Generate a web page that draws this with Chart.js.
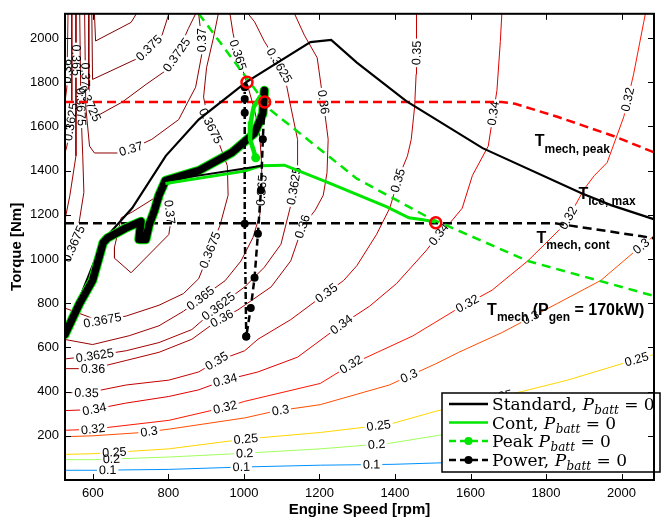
<!DOCTYPE html>
<html>
<head>
<meta charset="utf-8">
<script src="https://cdn.jsdelivr.net/npm/chart.js@4.4.0/dist/chart.umd.min.js"></script>
<style>
html,body{margin:0;padding:0;background:#fff;}
#chart{display:block;}
</style>
</head>
<body>
<canvas id="chart" width="662" height="521"></canvas>
<script>
const FONT = "'Liberation Sans', Arial, Helvetica, sans-serif";
const SERIF = "'DejaVu Serif', 'Liberation Serif', serif";
const LABEL_FONT = "12.5px " + FONT;
const GREEN = "#00e600";

const xTicks = [600, 800, 1000, 1200, 1400, 1600, 1800, 2000];
const yTicks = [200, 400, 600, 800, 1000, 1200, 1400, 1600, 1800, 2000];

// efficiency contours, points are [rpm, Nm]
const c010 = [[526,44],[600,44],[801,48],[1002,59],[1202,67],[1395,71],[1508,77],[1800,92],[2086,108]];
const c020 = [[526,92],[600,92],[801,104],[1002,121],[1202,141],[1385,166],[1508,200],[1800,290],[2086,380]];
const c025 = [[526,116],[600,119],[801,141],[1002,185],[1202,215],[1385,252],[1508,311],[1735,400],[1857,452],[2014,533],[2086,568]];
const c030 = [[526,196],[600,200],[731,215],[801,230],[1002,281],[1080,311],[1202,341],[1385,430],[1508,526],[1569,578],[1683,667],[1831,800],[1945,903],[2032,1030],[2086,1105]];
const c032 = [[526,225],[600,230],[801,270],[950,329],[1002,356],[1202,437],[1285,524],[1447,652],[1561,770],[1657,859],[1752,992],[1805,1081],[1849,1156],[1902,1319],[1928,1378],[1962,1437],[2006,1644],[2032,1837],[2059,2074],[2063,2110]];
const c034 = [[526,314],[600,319],[687,348],[801,378],[880,408],[950,452],[1037,489],[1142,556],[1259,704],[1333,787],[1404,889],[1482,1037],[1516,1111],[1542,1156],[1578,1230],[1605,1378],[1647,1511],[1670,1763],[1679,1985],[1683,2110]];
const c035 = [[526,396],[583,394],[688,430],[801,452],[880,489],[928,538],[1002,585],[1037,637],[1124,726],[1194,815],[1264,903],[1299,970],[1351,1111],[1386,1230],[1412,1378],[1433,1467],[1443,1541],[1452,1689],[1456,1837],[1458,1960],[1456,2110]];
const c036 = [[526,504],[600,504],[688,541],[775,578],[862,637],[928,719],[984,770],[1072,874],[1124,992],[1155,1147],[1189,1222],[1210,1289],[1220,1391],[1223,1542],[1212,1689],[1194,1911],[1160,2013],[1134,2110]];
const c036b = [[534,2110],[531,1778],[526,1711]];
const c03625 = [[526,548],[605,563],[688,585],[775,622],[862,681],[932,785],[1002,874],[1054,963],[1098,1067],[1124,1244],[1142,1422],[1142,1541],[1124,1689],[1107,1837],[1089,1889],[1054,1985],[1028,2074],[1011,2110]];
const c03625b = [[544,2110],[544,1644],[531,1511],[526,1480]];
const c0365 = [[526,636],[599,613],[696,653],[775,698],[840,764],[885,822],[950,902],[992,991],[1024,1098],[1042,1200],[1047,1311],[1047,1422],[1042,1555],[1029,1667],[1011,1778],[995,1866],[984,1924],[971,2022],[963,2110]];
const c0365b = [[555,2110],[555,1467],[539,1289],[526,1178]];
const c03675 = [[526,778],[618,720],[688,742],[775,791],[840,844],[880,911],[906,1022],[937,1155],[958,1289],[956,1422],[932,1533],[906,1622],[893,1733],[901,1867],[919,2000],[932,2110]];
const c03675b = [[565,2110],[568,1689],[573,1467],[576,1302],[557,1098],[534,1009],[526,987]];
const c037 = [[578,2110],[581,1689],[591,1511],[604,1480],[665,1480],[701,1498],[756,1542],[827,1631],[872,1778],[888,1924],[888,1991],[880,2110]];
const c037b = [[657,1053],[657,1004],[701,938],[801,1111],[806,1169],[801,1244],[775,1289],[704,1213],[675,1187],[657,1053]];
const c03725 = [[589,2110],[589,1711],[607,1644],[678,1711],[741,1791],[793,1853],[822,1924],[853,2044],[872,2110]];
const c0375 = [[597,2110],[599,1813],[722,1911],[783,2013],[801,2110]];
const c0375b = [[604,2110],[607,1987],[701,2071],[715,2110]];

const contourPieces = [
  [0.1, c010], [0.2, c020], [0.25, c025], [0.3, c030], [0.32, c032], [0.34, c034],
  [0.35, c035], [0.36, c036], [0.36, c036b], [0.3625, c03625], [0.3625, c03625b],
  [0.365, c0365], [0.365, c0365b], [0.3675, c03675], [0.3675, c03675b],
  [0.37, c037], [0.37, c037b], [0.3725, c03725], [0.375, c0375], [0.375, c0375b]
];

// inline contour labels: [level, rpm, Nm] (snapped onto the nearest line of that level)
const contourLabels = [
  [0.1,639,40],[0.1,993,58],[0.1,1338,71],
  [0.2,649,93],[0.2,1002,116],[0.2,1351,169],
  [0.25,657,120],[0.25,1005,187],[0.25,1356,258],[0.25,1678,382],[0.25,2040,547],
  [0.3,749,213],[0.3,1097,311],[0.3,1435,480],[0.3,1760,733],[0.3,2048,1067],
  [0.32,600,236],[0.32,950,329],[0.32,1283,524],[0.32,1595,787],[0.32,1857,1187],[0.32,2011,1724],
  [0.34,604,320],[0.34,950,453],[0.34,1259,702],[0.34,1516,1111],[0.34,1666,1658],
  [0.35,583,391],[0.35,927,542],[0.35,1215,853],[0.35,1424,1347],[0.35,1459,1933],
  [0.36,600,502],[0.36,945,720],[0.36,1155,1147],[0.36,1210,1711],[0.36,531,1850],
  [0.3625,605,564],[0.3625,932,787],[0.3625,1123,1333],[0.3625,1097,1880],[0.3625,544,1620],
  [0.365,885,822],[0.365,1045,1311],[0.365,984,1924],[0.365,555,1900],
  [0.3675,625,724],[0.3675,906,1044],[0.3675,909,1600],[0.3675,570,1689],[0.3675,552,1067],
  [0.37,804,1213],[0.37,701,1498],[0.37,888,1991],[0.37,580,1835],
  [0.3725,822,1924],[0.3725,589,1702],
  [0.375,754,1946]
];

// torque limits and operating lines
const tIceMax = [[526,658],[625,1080],[704,1231],[793,1467],[880,1631],[1005,1800],[1176,1982],[1231,1992],[1299,1889],[1430,1715],[1632,1502],[1894,1298],[1972,1244],[2090,1178]];
const tMechPeak = [[526,1711],[1683,1711],[1718,1703],[1830,1644],[1980,1556],[2090,1480]];
const tMechCont = [[526,1162],[1823,1162],[2050,1104],[2090,1093]];
const pGen170 = [[880,2111],[1002,1831],[1070,1675],[1299,1364],[1490,1187],[1752,991],[2090,831]];
const opBand = [[526,659],[565,800],[599,903],[627,1074],[639,1096],[688,1141],[727,1170],[722,1089],[740,1089],[749,1156],[762,1215],[775,1289],[792,1355],[880,1400],[967,1481],[1028,1570],[1050,1659],[1054,1763]];
const standardLine = [[792,1355],[1002,1410],[1046,1422]];
const contLine = [[792,1342],[1002,1398],[1045,1422],[1107,1425],[1220,1348],[1377,1237],[1437,1187],[1474,1178],[1508,1168]];
const peakLine = [[1042,1733],[1026,1689],[1018,1622],[1016,1542],[1026,1489],[1031,1458]];
const powerDashed = [[1054,1689],[1050,1542],[1045,1311],[1037,1115],[1028,915],[1018,778],[1006,649]];
const powerDashDot = [[1006,1800],[1002,1778],[1002,1724],[1002,1662],[1002,1160],[1006,649]];
const cornerPoints = [[1008,1800],[1055,1711],[1508,1164]];

const legendNames = ["Standard,", "Cont,", "Peak", "Power,"];

const notes = [
  {x:1770, y:1511, parts:[["T","b"],["mech, peak","s"]]},
  {x:1886, y:1273, parts:[["T","b"],["ice, max","s"]]},
  {x:1775, y:1074, parts:[["T","b"],["mech, cont","s"]]},
  {x:1644, y:748, parts:[["T","b"],["mech","s"],[" (P","b"],["gen","s"],[" = 170kW)","b"]]}
];

function jet(level) {
  const t = level / 0.375;
  const f = v => Math.round(255 * Math.max(0, Math.min(1, v)));
  return "rgb(" + f(1.5 - Math.abs(4*t - 3)) + "," + f(1.5 - Math.abs(4*t - 2)) + "," + f(1.5 - Math.abs(4*t - 1)) + ")";
}

const xy = pts => pts.map(([x, y]) => ({x, y}));
function line(pts, opts) {
  return Object.assign({data: xy(pts), showLine: true, pointRadius: 0, borderWidth: 2,
    fill: false, tension: 0, clip: 0}, opts);
}

const datasets = [
  line(cornerPoints, {showLine:false, pointRadius:5.5, pointBorderWidth:2.5, borderColor:"#ff0000",
    pointBorderColor:"#ff0000", pointBackgroundColor:"rgba(0,0,0,0)", order:1}),
  line(powerDashDot, {borderColor:"#000", borderWidth:2.5, borderDash:[7,3,2,3],
    pointRadius:[0,4,4,4,4,4], pointBackgroundColor:"#000", pointBorderWidth:0, order:2}),
  line(powerDashed, {borderColor:"#000", borderWidth:2.5, borderDash:[7,4],
    pointRadius:[0,4,4,4,4,4,4], pointBackgroundColor:"#000", pointBorderWidth:0, order:2}),
  line(peakLine, {borderColor:GREEN, borderWidth:4.5, borderCapStyle:"round",
    pointRadius:[0,0,0,0,0,4.5], pointBackgroundColor:GREEN, pointBorderWidth:0, order:3}),
  line(standardLine, {borderColor:"#000", borderWidth:2, order:4}),
  line(contLine, {borderColor:GREEN, borderWidth:3, order:5}),
  line(opBand, {borderColor:"#000", borderWidth:7.5, borderCapStyle:"round", borderJoinStyle:"round", order:6}),
  line(opBand, {borderColor:GREEN, borderWidth:9.5, borderCapStyle:"round", borderJoinStyle:"round", order:7}),
  line(tIceMax, {borderColor:"#000", borderWidth:2.2, order:8}),
  line(pGen170, {borderColor:GREEN, borderWidth:2.5, borderDash:[9,6], order:9}),
  line(tMechCont, {borderColor:"#000", borderWidth:2.5, borderDash:[9,5], order:9}),
  line(tMechPeak, {borderColor:"#ff0000", borderWidth:2.5, borderDash:[9,5], order:9})
];
contourPieces.forEach(([level, pts]) => {
  datasets.push(line(pts, {borderColor: jet(level), borderWidth: 1, order: 100, level}));
});

function placeLabels(chart) {
  const {x, y} = chart.scales;
  const ctx = chart.ctx;
  ctx.save();
  ctx.font = LABEL_FONT;
  chart.$labels = contourLabels.map(([lev, lx, ly]) => {
    const px = x.getPixelForValue(lx), py = y.getPixelForValue(ly);
    let best = null;
    contourPieces.forEach(([l, pts]) => {
      if (l !== lev) return;
      for (let i = 0; i < pts.length - 1; i++) {
        const ax = x.getPixelForValue(pts[i][0]), ay = y.getPixelForValue(pts[i][1]);
        const bx = x.getPixelForValue(pts[i+1][0]), by = y.getPixelForValue(pts[i+1][1]);
        const dx = bx - ax, dy = by - ay, len2 = dx*dx + dy*dy;
        let t = len2 ? ((px - ax)*dx + (py - ay)*dy) / len2 : 0;
        t = Math.max(0, Math.min(1, t));
        const qx = ax + t*dx, qy = ay + t*dy;
        const d = (qx - px)**2 + (qy - py)**2;
        if (!best || d < best.d) best = {d, qx, qy, ang: Math.atan2(dy, dx)};
      }
    });
    let ang = best.ang;
    if (ang > Math.PI/2) ang -= Math.PI;
    if (ang < -Math.PI/2) ang += Math.PI;
    const text = String(lev);
    return {lev, x: best.qx, y: best.qy, ang, text, w: ctx.measureText(text).width};
  });
  ctx.restore();
}

function boxPath(ctx, l) {
  const c = Math.cos(l.ang), s = Math.sin(l.ang), hw = l.w/2 + 2, hh = 5;
  const pts = [[-hw,-hh],[hw,-hh],[hw,hh],[-hw,hh]].map(([u, v]) => [l.x + u*c - v*s, l.y + u*s + v*c]);
  ctx.moveTo(pts[0][0], pts[0][1]);
  pts.slice(1).forEach(p => ctx.lineTo(p[0], p[1]));
  ctx.closePath();
}

function drawLabelText(chart) {
  const ctx = chart.ctx, a = chart.chartArea;
  ctx.save();
  ctx.beginPath();
  ctx.rect(a.left, a.top, a.right - a.left, a.bottom - a.top);
  ctx.clip();
  ctx.font = LABEL_FONT;
  ctx.fillStyle = "#000";
  ctx.textAlign = "center";
  ctx.textBaseline = "middle";
  chart.$labels.forEach(l => {
    ctx.save();
    ctx.translate(l.x, l.y);
    ctx.rotate(l.ang);
    ctx.fillText(l.text, 0, 0.5);
    ctx.restore();
  });
  ctx.restore();
}

function drawNotes(chart) {
  const {ctx, scales: {x, y}} = chart;
  ctx.save();
  ctx.fillStyle = "#000";
  ctx.textAlign = "left";
  ctx.textBaseline = "alphabetic";
  notes.forEach(n => {
    let px = x.getPixelForValue(n.x);
    const py = y.getPixelForValue(n.y);
    n.parts.forEach(([t, k]) => {
      ctx.font = k === "s" ? "bold 12px " + FONT : "bold 16px " + FONT;
      ctx.fillText(t, px, k === "s" ? py + 6.5 : py);
      px += ctx.measureText(t).width;
    });
  });
  ctx.restore();
}

const legendStyles = [
  {color:"#000", dash:[], dot:false},
  {color:GREEN, dash:[], dot:false},
  {color:GREEN, dash:[7,4], dot:true},
  {color:"#000", dash:[7,4], dot:true}
];

function drawLegend(ctx) {
  const bx = 442, by = 393, bw = 218, bh = 79;
  const rows = [404, 422.5, 441, 460];
  ctx.save();
  ctx.fillStyle = "#fff";
  ctx.fillRect(bx, by, bw, bh);
  ctx.lineWidth = 1.5;
  ctx.strokeStyle = "#000";
  ctx.strokeRect(bx, by, bw, bh);
  legendStyles.forEach((s, i) => {
    const yy = rows[i];
    ctx.beginPath();
    ctx.setLineDash(s.dash);
    ctx.strokeStyle = s.color;
    ctx.lineWidth = 2.5;
    ctx.moveTo(449, yy);
    ctx.lineTo(488, yy);
    ctx.stroke();
    ctx.setLineDash([]);
    if (s.dot) {
      ctx.fillStyle = s.color;
      ctx.beginPath();
      ctx.arc(468.5, yy, 4, 0, 2*Math.PI);
      ctx.fill();
    }
    let tx = 492;
    const base = yy + 6;
    ctx.fillStyle = "#000";
    ctx.textAlign = "left";
    ctx.textBaseline = "alphabetic";
    ctx.font = "17px " + SERIF;
    ctx.fillText(legendNames[i] + " ", tx, base);
    tx += ctx.measureText(legendNames[i] + " ").width;
    ctx.font = "italic 17px " + SERIF;
    ctx.fillText("P", tx, base);
    tx += ctx.measureText("P").width + 0.5;
    ctx.font = "italic 12px " + SERIF;
    ctx.fillText("batt", tx, base + 4);
    tx += ctx.measureText("batt").width;
    ctx.font = "17px " + SERIF;
    ctx.fillText(" = 0", tx, base);
  });
  ctx.restore();
}

function drawFrame(chart) {
  const {ctx, chartArea: a, scales: {x, y}} = chart;
  ctx.save();
  ctx.strokeStyle = "#000";
  ctx.lineWidth = 1;
  ctx.beginPath();
  xTicks.forEach(v => {
    const p = Math.round(x.getPixelForValue(v)) + 0.5;
    ctx.moveTo(p, a.bottom); ctx.lineTo(p, a.bottom - 6);
    ctx.moveTo(p, a.top); ctx.lineTo(p, a.top + 6);
  });
  yTicks.forEach(v => {
    const p = Math.round(y.getPixelForValue(v)) + 0.5;
    ctx.moveTo(a.left, p); ctx.lineTo(a.left + 6, p);
    ctx.moveTo(a.right, p); ctx.lineTo(a.right - 6, p);
  });
  ctx.stroke();
  ctx.lineWidth = 2;
  ctx.strokeRect(a.left, a.top, a.right - a.left, a.bottom - a.top);
  ctx.restore();
}

const mapPlugin = {
  id: "mapPlugin",
  beforeDatasetsDraw(chart) {
    placeLabels(chart);
    chart.$textDone = false;
  },
  beforeDatasetDraw(chart, args) {
    const ds = chart.data.datasets[args.index];
    const ctx = chart.ctx;
    if (ds.level !== undefined) {
      ctx.save();
      ctx.beginPath();
      ctx.rect(0, 0, chart.width, chart.height);
      chart.$labels.forEach(l => { if (l.lev === ds.level) boxPath(ctx, l); });
      ctx.clip("evenodd");
    } else if (!chart.$textDone) {
      drawLabelText(chart);
      chart.$textDone = true;
    }
  },
  afterDatasetDraw(chart, args) {
    if (chart.data.datasets[args.index].level !== undefined) chart.ctx.restore();
  },
  afterDatasetsDraw(chart) {
    drawNotes(chart);
    drawLegend(chart.ctx);
  },
  afterDraw(chart) {
    drawFrame(chart);
  }
};

new Chart(document.getElementById("chart"), {
  type: "scatter",
  data: {datasets},
  options: {
    responsive: false,
    animation: false,
    devicePixelRatio: 1,
    events: [],
    layout: {padding: {top: 5, right: 2, left: 0, bottom: 0}},
    plugins: {legend: {display: false}, tooltip: {enabled: false}},
    scales: {
      x: {
        type: "linear", position: "bottom", min: 526, max: 2086,
        afterBuildTicks: s => { s.ticks = xTicks.map(v => ({value: v})); },
        afterFit: s => { s.height = 41; },
        grid: {display: false, drawTicks: false},
        border: {display: false},
        ticks: {color: "#000", font: {family: FONT, size: 13}, padding: 6, maxRotation: 0,
          autoSkip: false, callback: v => String(v)},
        title: {display: true, text: "Engine Speed [rpm]", color: "#000",
          font: {family: FONT, size: 15, weight: "bold"}, padding: {top: 0, bottom: 2}}
      },
      y: {
        type: "linear", position: "left", min: 0, max: 2110,
        afterBuildTicks: s => { s.ticks = yTicks.map(v => ({value: v})); },
        afterFit: s => { s.width = 65; },
        grid: {display: false, drawTicks: false},
        border: {display: false},
        ticks: {color: "#000", font: {family: FONT, size: 13}, padding: 6, autoSkip: false,
          callback: v => String(v)},
        title: {display: true, text: "Torque [Nm]", color: "#000",
          font: {family: FONT, size: 15, weight: "bold"}, padding: {top: 8, bottom: 0}}
      }
    }
  },
  plugins: [mapPlugin]
});
</script>
</body>
</html>
